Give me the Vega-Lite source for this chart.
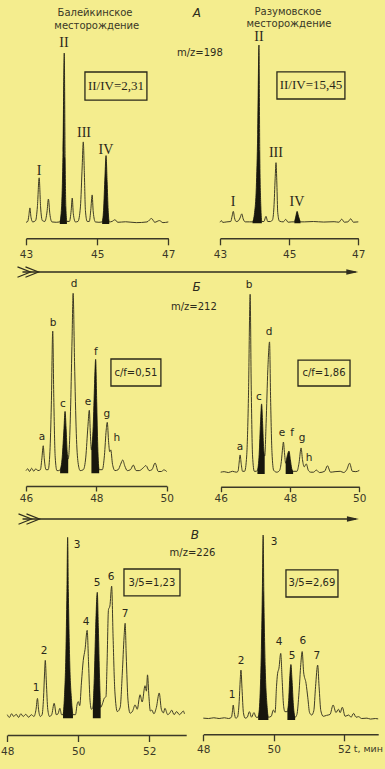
{
"$schema":"https://vega.github.io/schema/vega-lite/v6.json",
"width":385,"height":769,"padding":0,"autosize":{"type":"none"},
"background":"#f4ed8e",
"config":{"view":{"stroke":null},"axis":{"grid":false,"labelFlush":false,"domainColor":"#3b3927","tickColor":"#3b3927","labelColor":"#3b3927","labelFont":"DejaVu Sans","labelFontSize":10.5,"domainWidth":1.4,"tickWidth":1.3,"tickSize":6.5,"labelPadding":5},"text":{"font":"DejaVu Sans","color":"#2d2b1c"}},
"datasets":{
"tr1L":[{"t":43.00,"v":1},{"t":43.05,"v":1.5},{"t":43.08,"v":5},{"t":43.11,"v":9.4},{"t":43.14,"v":4},{"t":43.19,"v":1.2},{"t":43.27,"v":2},{"t":43.32,"v":10},{"t":43.37,"v":27},{"t":43.41,"v":10},{"t":43.46,"v":2},{"t":43.53,"v":1.5},{"t":43.59,"v":7},{"t":43.63,"v":14.6},{"t":43.67,"v":6},{"t":43.73,"v":1.2},{"t":43.85,"v":1},{"t":43.95,"v":1.2,"g":"II"},{"t":44.00,"v":10,"g":"II"},{"t":44.04,"v":42,"g":"II"},{"t":44.075,"v":100,"g":"II"},{"t":44.10,"v":38,"g":"II"},{"t":44.12,"v":10,"g":"II"},{"t":44.15,"v":1.5,"g":"II"},{"t":44.22,"v":1.5},{"t":44.27,"v":8},{"t":44.30,"v":15.2},{"t":44.33,"v":6},{"t":44.39,"v":1.2},{"t":44.46,"v":1.5},{"t":44.53,"v":10},{"t":44.58,"v":34},{"t":44.61,"v":48},{"t":44.64,"v":30},{"t":44.67,"v":8},{"t":44.72,"v":1.5},{"t":44.78,"v":1.5},{"t":44.82,"v":8},{"t":44.86,"v":17},{"t":44.89,"v":7},{"t":44.95,"v":1.2},{"t":45.05,"v":1},{"t":45.14,"v":1.2,"g":"IV"},{"t":45.18,"v":8,"g":"IV"},{"t":45.22,"v":28,"g":"IV"},{"t":45.25,"v":40,"g":"IV"},{"t":45.28,"v":25,"g":"IV"},{"t":45.31,"v":8,"g":"IV"},{"t":45.34,"v":1.2,"g":"IV"},{"t":45.42,"v":1.5},{"t":45.50,"v":2.5},{"t":45.58,"v":1},{"t":45.8,"v":1.3},{"t":46.1,"v":0.8},{"t":46.4,"v":1.2},{"t":46.53,"v":3.2},{"t":46.62,"v":1},{"t":46.75,"v":2},{"t":46.85,"v":0.8},{"t":47.0,"v":1.2}],
"tr1R":[{"t":43.00,"v":0.6},{"t":43.04,"v":1.5},{"t":43.08,"v":0.5},{"t":43.2,"v":0.8},{"t":43.31,"v":1},{"t":43.35,"v":4},{"t":43.385,"v":6.7},{"t":43.42,"v":3},{"t":43.47,"v":1},{"t":43.52,"v":1.2},{"t":43.58,"v":3},{"t":43.63,"v":5.3},{"t":43.67,"v":2.5},{"t":43.73,"v":0.8},{"t":43.85,"v":0.8},{"t":43.94,"v":0.8,"g":"II"},{"t":44.00,"v":6,"g":"II"},{"t":44.05,"v":20,"g":"II"},{"t":44.09,"v":50,"g":"II"},{"t":44.127,"v":100,"g":"II"},{"t":44.15,"v":40,"g":"II"},{"t":44.18,"v":10,"g":"II"},{"t":44.21,"v":1,"g":"II"},{"t":44.27,"v":1},{"t":44.33,"v":3.9},{"t":44.38,"v":1},{"t":44.46,"v":1},{"t":44.52,"v":2},{"t":44.56,"v":9},{"t":44.595,"v":25},{"t":44.62,"v":34},{"t":44.645,"v":22},{"t":44.67,"v":6},{"t":44.72,"v":1.2},{"t":44.83,"v":0.8},{"t":44.9,"v":2.2},{"t":44.97,"v":0.6},{"t":45.08,"v":0.8},{"t":45.15,"v":0.8,"g":"IV"},{"t":45.20,"v":4.5,"g":"IV"},{"t":45.23,"v":6.7,"g":"IV"},{"t":45.27,"v":4,"g":"IV"},{"t":45.33,"v":0.8,"g":"IV"},{"t":45.45,"v":0.8},{"t":45.7,"v":1},{"t":46.0,"v":0.7},{"t":46.3,"v":0.9},{"t":46.44,"v":0.6},{"t":46.52,"v":2.3},{"t":46.6,"v":0.6},{"t":46.7,"v":0.8},{"t":46.78,"v":2.5},{"t":46.86,"v":0.6},{"t":47.0,"v":0.8}],
"tr2L":[{"t":46.00,"v":1.5},{"t":46.05,"v":2.5},{"t":46.1,"v":1},{"t":46.16,"v":2.8},{"t":46.22,"v":1.2},{"t":46.28,"v":2.5},{"t":46.34,"v":1.5},{"t":46.41,"v":2},{"t":46.45,"v":8},{"t":46.49,"v":15.3},{"t":46.52,"v":8},{"t":46.57,"v":2},{"t":46.63,"v":2},{"t":46.68,"v":12},{"t":46.72,"v":38},{"t":46.76,"v":79},{"t":46.79,"v":42},{"t":46.83,"v":9},{"t":46.88,"v":1.5},{"t":46.93,"v":1.5},{"t":46.97,"v":2,"g":"c"},{"t":47.03,"v":9,"g":"c"},{"t":47.08,"v":25,"g":"c"},{"t":47.11,"v":34.4,"g":"c"},{"t":47.14,"v":25,"g":"c"},{"t":47.17,"v":12,"g":"c"},{"t":47.20,"v":8,"g":"c"},{"t":47.23,"v":14},{"t":47.27,"v":38},{"t":47.31,"v":75},{"t":47.34,"v":100},{"t":47.38,"v":62},{"t":47.43,"v":22},{"t":47.48,"v":6},{"t":47.54,"v":1.5},{"t":47.63,"v":2},{"t":47.70,"v":9},{"t":47.76,"v":26},{"t":47.80,"v":35},{"t":47.83,"v":22},{"t":47.86,"v":13,"g":"f"},{"t":47.91,"v":26,"g":"f"},{"t":47.95,"v":50,"g":"f"},{"t":47.98,"v":63.3,"g":"f"},{"t":48.01,"v":40,"g":"f"},{"t":48.04,"v":15,"g":"f"},{"t":48.08,"v":2,"g":"f"},{"t":48.17,"v":2},{"t":48.23,"v":10},{"t":48.28,"v":24},{"t":48.31,"v":28.3},{"t":48.35,"v":17},{"t":48.38,"v":12},{"t":48.41,"v":13},{"t":48.46,"v":5},{"t":48.53,"v":1.5},{"t":48.62,"v":2},{"t":48.69,"v":5},{"t":48.75,"v":7.4},{"t":48.81,"v":4},{"t":48.88,"v":1.5},{"t":48.97,"v":2},{"t":49.05,"v":4.6},{"t":49.13,"v":1.5},{"t":49.22,"v":1.5},{"t":49.33,"v":3},{"t":49.41,"v":4.3},{"t":49.5,"v":1.5},{"t":49.58,"v":2},{"t":49.67,"v":5.7},{"t":49.76,"v":1},{"t":49.85,"v":1},{"t":49.92,"v":1.9},{"t":50.0,"v":1}],
"tr2R":[{"t":46.00,"v":1},{"t":46.1,"v":1.3},{"t":46.22,"v":0.8},{"t":46.34,"v":1.5},{"t":46.45,"v":1},{"t":46.50,"v":1.5},{"t":46.53,"v":6},{"t":46.56,"v":10.6},{"t":46.59,"v":6},{"t":46.63,"v":1.5},{"t":46.69,"v":1.5},{"t":46.75,"v":10},{"t":46.80,"v":42},{"t":46.85,"v":100},{"t":46.88,"v":50},{"t":46.92,"v":10},{"t":46.97,"v":1.5},{"t":47.02,"v":1.5},{"t":47.06,"v":2,"g":"c"},{"t":47.11,"v":11,"g":"c"},{"t":47.15,"v":29,"g":"c"},{"t":47.18,"v":39,"g":"c"},{"t":47.21,"v":28,"g":"c"},{"t":47.24,"v":14,"g":"c"},{"t":47.27,"v":10,"g":"c"},{"t":47.31,"v":28},{"t":47.36,"v":58},{"t":47.41,"v":73.5},{"t":47.44,"v":42},{"t":47.48,"v":12},{"t":47.53,"v":2},{"t":47.62,"v":1},{"t":47.70,"v":2},{"t":47.75,"v":7},{"t":47.79,"v":15},{"t":47.81,"v":17.8},{"t":47.84,"v":12},{"t":47.875,"v":6,"g":"f"},{"t":47.92,"v":10,"g":"f"},{"t":47.97,"v":12.8,"g":"f"},{"t":48.01,"v":8,"g":"f"},{"t":48.05,"v":3,"g":"f"},{"t":48.09,"v":1.5,"g":"f"},{"t":48.2,"v":1.5},{"t":48.26,"v":6},{"t":48.32,"v":14.5},{"t":48.36,"v":8},{"t":48.41,"v":4},{"t":48.47,"v":5.6},{"t":48.53,"v":2},{"t":48.6,"v":1},{"t":48.68,"v":1},{"t":48.76,"v":2.2},{"t":48.85,"v":0.8},{"t":49.0,"v":1.5},{"t":49.08,"v":4.6},{"t":49.17,"v":1},{"t":49.3,"v":1.3},{"t":49.45,"v":1.5},{"t":49.55,"v":0.8},{"t":49.64,"v":2.5},{"t":49.72,"v":6},{"t":49.8,"v":1.5},{"t":49.9,"v":1.3},{"t":50.0,"v":2}],
"tr3L":[{"t":48.00,"v":2},{"t":48.06,"v":0.5},{"t":48.12,"v":2.5},{"t":48.18,"v":1},{"t":48.25,"v":2.2},{"t":48.32,"v":0.5},{"t":48.38,"v":2.5},{"t":48.45,"v":1},{"t":48.52,"v":2.2},{"t":48.6,"v":0.6},{"t":48.68,"v":2},{"t":48.75,"v":1},{"t":48.81,"v":5},{"t":48.85,"v":11},{"t":48.88,"v":5},{"t":48.93,"v":1},{"t":48.98,"v":2},{"t":49.02,"v":11},{"t":49.05,"v":25},{"t":49.07,"v":32},{"t":49.10,"v":20},{"t":49.14,"v":5},{"t":49.19,"v":1},{"t":49.25,"v":2},{"t":49.32,"v":8.3},{"t":49.38,"v":2},{"t":49.43,"v":2.5},{"t":49.48,"v":5.5},{"t":49.53,"v":2},{"t":49.57,"v":2,"g":"3"},{"t":49.61,"v":12,"g":"3"},{"t":49.65,"v":35,"g":"3"},{"t":49.68,"v":70,"g":"3"},{"t":49.70,"v":100,"g":"3"},{"t":49.72,"v":70,"g":"3"},{"t":49.76,"v":30,"g":"3"},{"t":49.81,"v":10,"g":"3"},{"t":49.85,"v":2,"g":"3"},{"t":49.92,"v":2},{"t":49.97,"v":8},{"t":50.0,"v":9.2},{"t":50.04,"v":7},{"t":50.09,"v":20},{"t":50.14,"v":32},{"t":50.19,"v":38},{"t":50.25,"v":48.6},{"t":50.29,"v":30},{"t":50.33,"v":10},{"t":50.37,"v":5},{"t":50.41,"v":6,"g":"5"},{"t":50.45,"v":22,"g":"5"},{"t":50.49,"v":50,"g":"5"},{"t":50.535,"v":69.6,"g":"5"},{"t":50.565,"v":50,"g":"5"},{"t":50.60,"v":22,"g":"5"},{"t":50.63,"v":6,"g":"5"},{"t":50.68,"v":8},{"t":50.73,"v":11},{"t":50.78,"v":12},{"t":50.81,"v":30},{"t":50.85,"v":60},{"t":50.89,"v":62},{"t":50.94,"v":73},{"t":50.98,"v":45},{"t":51.03,"v":15},{"t":51.10,"v":3.7},{"t":51.18,"v":6},{"t":51.24,"v":25},{"t":51.29,"v":45},{"t":51.32,"v":52.5},{"t":51.35,"v":35},{"t":51.40,"v":10},{"t":51.46,"v":2.8},{"t":51.53,"v":4},{"t":51.60,"v":7.4},{"t":51.66,"v":5},{"t":51.74,"v":13},{"t":51.80,"v":9},{"t":51.88,"v":18},{"t":51.92,"v":15},{"t":51.95,"v":24},{"t":51.99,"v":12},{"t":52.03,"v":4},{"t":52.07,"v":4.6},{"t":52.13,"v":2.5},{"t":52.2,"v":6},{"t":52.28,"v":14},{"t":52.34,"v":5},{"t":52.40,"v":3},{"t":52.44,"v":5.5},{"t":52.52,"v":2},{"t":52.58,"v":3},{"t":52.63,"v":4.5},{"t":52.7,"v":2},{"t":52.77,"v":3.7},{"t":52.85,"v":2},{"t":52.96,"v":4},{"t":52.99,"v":2.5}],
"tr3R":[{"t":48.00,"v":1},{"t":48.15,"v":0.8},{"t":48.3,"v":1.2},{"t":48.45,"v":0.8},{"t":48.6,"v":1.2},{"t":48.72,"v":0.8},{"t":48.80,"v":1.5},{"t":48.83,"v":5},{"t":48.85,"v":8.1},{"t":48.88,"v":4},{"t":48.92,"v":1},{"t":48.97,"v":1.5},{"t":49.02,"v":10},{"t":49.05,"v":22},{"t":49.07,"v":27},{"t":49.10,"v":17},{"t":49.14,"v":4},{"t":49.19,"v":1},{"t":49.25,"v":1.5},{"t":49.31,"v":4.5},{"t":49.37,"v":1.5},{"t":49.44,"v":4},{"t":49.50,"v":1.5},{"t":49.56,"v":1.5,"g":"3"},{"t":49.61,"v":12,"g":"3"},{"t":49.65,"v":38,"g":"3"},{"t":49.68,"v":72,"g":"3"},{"t":49.70,"v":100,"g":"3"},{"t":49.72,"v":68,"g":"3"},{"t":49.76,"v":28,"g":"3"},{"t":49.81,"v":8,"g":"3"},{"t":49.85,"v":1.5,"g":"3"},{"t":49.93,"v":2},{"t":49.99,"v":5.4},{"t":50.04,"v":4},{"t":50.08,"v":18},{"t":50.11,"v":25},{"t":50.15,"v":28},{"t":50.20,"v":36},{"t":50.24,"v":22},{"t":50.28,"v":8},{"t":50.32,"v":4.5},{"t":50.39,"v":4.5,"g":"5"},{"t":50.43,"v":12,"g":"5"},{"t":50.46,"v":24,"g":"5"},{"t":50.49,"v":30,"g":"5"},{"t":50.52,"v":22,"g":"5"},{"t":50.56,"v":8,"g":"5"},{"t":50.61,"v":1.5,"g":"5"},{"t":50.66,"v":3},{"t":50.72,"v":15},{"t":50.77,"v":30},{"t":50.81,"v":37},{"t":50.85,"v":26},{"t":50.92,"v":19.8},{"t":50.97,"v":12},{"t":51.02,"v":4},{"t":51.08,"v":2.7},{"t":51.14,"v":5},{"t":51.19,"v":18},{"t":51.25,"v":29.7},{"t":51.29,"v":18},{"t":51.34,"v":5},{"t":51.41,"v":2},{"t":51.5,"v":2.5},{"t":51.6,"v":3},{"t":51.69,"v":8.1},{"t":51.77,"v":4},{"t":51.84,"v":5.8},{"t":51.89,"v":4},{"t":51.95,"v":6.9},{"t":52.03,"v":2},{"t":52.13,"v":2.7},{"t":52.2,"v":1.5},{"t":52.27,"v":3.6},{"t":52.34,"v":1.5},{"t":52.41,"v":1.8},{"t":52.5,"v":0.8},{"t":52.65,"v":1},{"t":52.75,"v":0.5},{"t":52.89,"v":0.8},{"t":52.97,"v":0.6}],
"lab1L":[{"t":44.067,"v":105.8,"label":"II"},{"t":43.365,"v":31,"label":"I"},{"t":44.63,"v":53.2,"label":"III"},{"t":45.247,"v":43.3,"label":"IV"}],
"lab1R":[{"t":44.127,"v":104.5,"label":"II"},{"t":43.376,"v":11.9,"label":"I"},{"t":44.618,"v":39.4,"label":"III"},{"t":45.225,"v":11.9,"label":"IV"}],
"lab2L":[{"t":46.455,"v":20.2,"label":"a"},{"t":46.767,"v":83.5,"label":"b"},{"t":47.051,"v":38.5,"label":"c"},{"t":47.364,"v":105.2,"label":"d"},{"t":47.761,"v":39.6,"label":"e"},{"t":47.989,"v":67.4,"label":"f"},{"t":48.301,"v":32.9,"label":"g"},{"t":48.585,"v":19.6,"label":"h"}],
"lab2R":[{"t":46.557,"v":15,"label":"a"},{"t":46.817,"v":105.2,"label":"b"},{"t":47.105,"v":42.8,"label":"c"},{"t":47.394,"v":79,"label":"d"},{"t":47.769,"v":22.8,"label":"e"},{"t":48.058,"v":22.8,"label":"f"},{"t":48.346,"v":20,"label":"g"},{"t":48.548,"v":8.9,"label":"h"}],
"lab3L":[{"t":48.808,"v":16.7,"label":"1"},{"t":49.034,"v":37.2,"label":"2"},{"t":49.963,"v":95.7,"label":"3"},{"t":50.217,"v":53.2,"label":"4"},{"t":50.527,"v":74.8,"label":"5"},{"t":50.921,"v":78.1,"label":"6"},{"t":51.315,"v":57.6,"label":"7"}],
"lab3R":[{"t":48.815,"v":13.5,"label":"1"},{"t":49.071,"v":31.9,"label":"2"},{"t":50.009,"v":96.2,"label":"3"},{"t":50.151,"v":42.2,"label":"4"},{"t":50.52,"v":34.6,"label":"5"},{"t":50.832,"v":42.7,"label":"6"},{"t":51.23,"v":34.6,"label":"7"}]
},
"layer":[
{"layer":[
 {"data":{"name":"tr1L"},"mark":{"type":"line","interpolate":"monotone","color":"#3e3b25","strokeWidth":1},
  "encoding":{"x":{"field":"t","type":"quantitative","scale":{"domain":[43,47],"range":[26,168.3],"nice":false,"zero":false},"axis":{"orient":"bottom","offset":-530.7,"values":[43,45,47],"format":"d","title":null}},"y":{"field":"v","type":"quantitative","scale":{"domain":[0,100],"range":[224,53],"nice":false,"zero":false},"axis":null}}},
 {"data":{"name":"tr1L"},"transform":[{"filter":"isValid(datum.g)"}],"mark":{"type":"area","interpolate":"monotone","color":"#17160d"},
  "encoding":{"x":{"field":"t","type":"quantitative"},"y":{"field":"v","type":"quantitative","axis":null},"y2":{"datum":0},"detail":{"field":"g"}}},
 {"data":{"name":"lab1L"},"mark":{"type":"text","font":"Liberation Serif","fontSize":14,"color":"#2a281a"},
  "encoding":{"x":{"field":"t","type":"quantitative"},"y":{"field":"v","type":"quantitative","axis":null},"text":{"field":"label"}}},
 {"data":{"values":[{"t1":44.657,"t2":46.399,"v1":88.9,"v2":72.5}]},"mark":{"type":"rect","filled":false,"color":"#2a281a","strokeWidth":1.3},
  "encoding":{"x":{"field":"t1","type":"quantitative"},"x2":{"field":"t2"},"y":{"field":"v1","type":"quantitative","axis":null},"y2":{"field":"v2"}}},
 {"data":{"values":[{"t":45.528,"v":80.7,"label":"II/IV=2,31"}]},"mark":{"type":"text","font":"Liberation Serif","fontSize":13,"color":"#2a281a"},
  "encoding":{"x":{"field":"t","type":"quantitative"},"y":{"field":"v","type":"quantitative","axis":null},"text":{"field":"label"}}},
 {"data":{"values":[{"t":44.94,"v":123.4,"label":"Балейкинское"},{"t":44.99,"v":115.8,"label":"месторождение"}]},"mark":{"type":"text","fontSize":10,"color":"#3a3826"},
  "encoding":{"x":{"field":"t","type":"quantitative"},"y":{"field":"v","type":"quantitative","axis":null},"text":{"field":"label"}}},
 {"data":{"values":[{"t":47.8,"v":123.4,"label":"А"}]},"mark":{"type":"text","fontSize":12,"fontStyle":"italic"},
  "encoding":{"x":{"field":"t","type":"quantitative"},"y":{"field":"v","type":"quantitative","axis":null},"text":{"field":"label"}}},
 {"data":{"values":[{"t":47.888,"v":100,"label":"m/z=198"}]},"mark":{"type":"text","fontSize":10},
  "encoding":{"x":{"field":"t","type":"quantitative"},"y":{"field":"v","type":"quantitative","axis":null},"text":{"field":"label"}}}
]},
{"layer":[
 {"data":{"name":"tr1R"},"mark":{"type":"line","interpolate":"monotone","color":"#3e3b25","strokeWidth":1},
  "encoding":{"x":{"field":"t","type":"quantitative","scale":{"domain":[43,47],"range":[220,358.3],"nice":false,"zero":false},"axis":{"orient":"bottom","offset":-530.7,"values":[43,45,47],"format":"d","title":null}},"y":{"field":"v","type":"quantitative","scale":{"domain":[0,100],"range":[223.3,45],"nice":false,"zero":false},"axis":null}}},
 {"data":{"name":"tr1R"},"transform":[{"filter":"isValid(datum.g)"}],"mark":{"type":"area","interpolate":"monotone","color":"#17160d"},
  "encoding":{"x":{"field":"t","type":"quantitative"},"y":{"field":"v","type":"quantitative","axis":null},"y2":{"datum":0},"detail":{"field":"g"}}},
 {"data":{"name":"lab1R"},"mark":{"type":"text","font":"Liberation Serif","fontSize":14,"color":"#2a281a"},
  "encoding":{"x":{"field":"t","type":"quantitative"},"y":{"field":"v","type":"quantitative","axis":null},"text":{"field":"label"}}},
 {"data":{"values":[{"t1":44.647,"t2":46.613,"v1":84.9,"v2":69.7}]},"mark":{"type":"rect","filled":false,"color":"#2a281a","strokeWidth":1.3},
  "encoding":{"x":{"field":"t1","type":"quantitative"},"x2":{"field":"t2"},"y":{"field":"v1","type":"quantitative","axis":null},"y2":{"field":"v2"}}},
 {"data":{"values":[{"t":45.63,"v":77.3,"label":"II/IV=15,45"}]},"mark":{"type":"text","font":"Liberation Serif","fontSize":13,"color":"#2a281a"},
  "encoding":{"x":{"field":"t","type":"quantitative"},"y":{"field":"v","type":"quantitative","axis":null},"text":{"field":"label"}}},
 {"data":{"values":[{"t":44.965,"v":118.5,"label":"Разумовское"},{"t":44.994,"v":111.8,"label":"месторождение"}]},"mark":{"type":"text","fontSize":10,"color":"#3a3826"},
  "encoding":{"x":{"field":"t","type":"quantitative"},"y":{"field":"v","type":"quantitative","axis":null},"text":{"field":"label"}}}
]},
{"layer":[
 {"data":{"name":"tr2L"},"mark":{"type":"line","interpolate":"monotone","color":"#3e3b25","strokeWidth":1},
  "encoding":{"x":{"field":"t","type":"quantitative","scale":{"domain":[46,50],"range":[26,166.7],"nice":false,"zero":false},"axis":{"orient":"bottom","offset":-283,"values":[46,48,50],"format":"d","tickSize":5,"labelPadding":2,"title":null}},"y":{"field":"v","type":"quantitative","scale":{"domain":[0,100],"range":[473.3,293.3],"nice":false,"zero":false},"axis":null}}},
 {"data":{"name":"tr2L"},"transform":[{"filter":"isValid(datum.g)"}],"mark":{"type":"area","interpolate":"monotone","color":"#17160d"},
  "encoding":{"x":{"field":"t","type":"quantitative"},"y":{"field":"v","type":"quantitative","axis":null},"y2":{"datum":0},"detail":{"field":"g"}}},
 {"data":{"name":"lab2L"},"mark":{"type":"text","fontSize":10.5,"color":"#2a281a"},
  "encoding":{"x":{"field":"t","type":"quantitative"},"y":{"field":"v","type":"quantitative","axis":null},"text":{"field":"label"}}},
 {"data":{"values":[{"t1":48.415,"t2":49.835,"v1":63.5,"v2":48.5}]},"mark":{"type":"rect","filled":false,"color":"#2a281a","strokeWidth":1.3},
  "encoding":{"x":{"field":"t1","type":"quantitative"},"x2":{"field":"t2"},"y":{"field":"v1","type":"quantitative","axis":null},"y2":{"field":"v2"}}},
 {"data":{"values":[{"t":49.125,"v":55.9,"label":"c/f=0,51"}]},"mark":{"type":"text","fontSize":10,"color":"#2a281a"},
  "encoding":{"x":{"field":"t","type":"quantitative"},"y":{"field":"v","type":"quantitative","axis":null},"text":{"field":"label"}}},
 {"data":{"values":[{"t":50.849,"v":103.7,"label":"Б"}]},"mark":{"type":"text","fontSize":12,"fontStyle":"italic"},
  "encoding":{"x":{"field":"t","type":"quantitative"},"y":{"field":"v","type":"quantitative","axis":null},"text":{"field":"label"}}},
 {"data":{"values":[{"t":50.773,"v":92.6,"label":"m/z=212"}]},"mark":{"type":"text","fontSize":10},
  "encoding":{"x":{"field":"t","type":"quantitative"},"y":{"field":"v","type":"quantitative","axis":null},"text":{"field":"label"}}},
 {"data":{"values":[{"t1":45.9,"t2":55.375,"v":111.8}]},"mark":{"type":"rule","color":"#2f2d1e","strokeWidth":1.4},
  "encoding":{"x":{"field":"t1","type":"quantitative"},"x2":{"field":"t2"},"y":{"field":"v","type":"quantitative","axis":null}}},
 {"data":{"values":[{"t":45.943,"v":111.8},{"t":46.17,"v":111.8}]},"mark":{"type":"point","shape":"M-1,-0.8L1,0L-1,0.8","filled":false,"size":169,"color":"#2f2d1e","strokeWidth":1.2,"opacity":1},
  "encoding":{"x":{"field":"t","type":"quantitative"},"y":{"field":"v","type":"quantitative","axis":null}}},
 {"data":{"values":[{"t":55.276,"v":111.8}]},"mark":{"type":"point","shape":"M-1,-0.45L1,0L-1,0.45Z","filled":true,"size":144,"color":"#2f2d1e","opacity":1},
  "encoding":{"x":{"field":"t","type":"quantitative"},"y":{"field":"v","type":"quantitative","axis":null}}}
]},
{"layer":[
 {"data":{"name":"tr2R"},"mark":{"type":"line","interpolate":"monotone","color":"#3e3b25","strokeWidth":1},
  "encoding":{"x":{"field":"t","type":"quantitative","scale":{"domain":[46,50],"range":[220.7,359.3],"nice":false,"zero":false},"axis":{"orient":"bottom","offset":-282.3,"values":[46,48,50],"format":"d","tickSize":5,"labelPadding":2,"title":null}},"y":{"field":"v","type":"quantitative","scale":{"domain":[0,100],"range":[474,294.3],"nice":false,"zero":false},"axis":null}}},
 {"data":{"name":"tr2R"},"transform":[{"filter":"isValid(datum.g)"}],"mark":{"type":"area","interpolate":"monotone","color":"#17160d"},
  "encoding":{"x":{"field":"t","type":"quantitative"},"y":{"field":"v","type":"quantitative","axis":null},"y2":{"datum":0},"detail":{"field":"g"}}},
 {"data":{"name":"lab2R"},"mark":{"type":"text","fontSize":10.5,"color":"#2a281a"},
  "encoding":{"x":{"field":"t","type":"quantitative"},"y":{"field":"v","type":"quantitative","axis":null},"text":{"field":"label"}}},
 {"data":{"values":[{"t1":48.231,"t2":49.732,"v1":63.4,"v2":48.97}]},"mark":{"type":"rect","filled":false,"color":"#2a281a","strokeWidth":1.3},
  "encoding":{"x":{"field":"t1","type":"quantitative"},"x2":{"field":"t2"},"y":{"field":"v1","type":"quantitative","axis":null},"y2":{"field":"v2"}}},
 {"data":{"values":[{"t":48.981,"v":56.2,"label":"c/f=1,86"}]},"mark":{"type":"text","fontSize":10,"color":"#2a281a"},
  "encoding":{"x":{"field":"t","type":"quantitative"},"y":{"field":"v","type":"quantitative","axis":null},"text":{"field":"label"}}}
]},
{"layer":[
 {"data":{"name":"tr3L"},"mark":{"type":"line","interpolate":"monotone","color":"#3e3b25","strokeWidth":1},
  "encoding":{"x":{"field":"t","type":"quantitative","scale":{"domain":[48,53.04],"range":[7.3,186.2],"nice":false,"zero":false},"axis":{"orient":"bottom","offset":-34,"values":[48,50,52],"format":"d","title":null}},"y":{"field":"v","type":"quantitative","scale":{"domain":[0,100],"range":[718.3,537.3],"nice":false,"zero":false},"axis":null}}},
 {"data":{"name":"tr3L"},"transform":[{"filter":"isValid(datum.g)"}],"mark":{"type":"area","interpolate":"monotone","color":"#17160d"},
  "encoding":{"x":{"field":"t","type":"quantitative"},"y":{"field":"v","type":"quantitative","axis":null},"y2":{"datum":0},"detail":{"field":"g"}}},
 {"data":{"name":"lab3L"},"mark":{"type":"text","fontSize":10.5,"color":"#2a281a"},
  "encoding":{"x":{"field":"t","type":"quantitative"},"y":{"field":"v","type":"quantitative","axis":null},"text":{"field":"label"}}},
 {"data":{"values":[{"t1":51.287,"t2":52.865,"v1":82.5,"v2":67.6}]},"mark":{"type":"rect","filled":false,"color":"#2a281a","strokeWidth":1.3},
  "encoding":{"x":{"field":"t1","type":"quantitative"},"x2":{"field":"t2"},"y":{"field":"v1","type":"quantitative","axis":null},"y2":{"field":"v2"}}},
 {"data":{"values":[{"t":52.076,"v":74.9,"label":"3/5=1,23"}]},"mark":{"type":"text","fontSize":10,"color":"#2a281a"},
  "encoding":{"x":{"field":"t","type":"quantitative"},"y":{"field":"v","type":"quantitative","axis":null},"text":{"field":"label"}}},
 {"data":{"values":[{"t":53.287,"v":101.3,"label":"В"}]},"mark":{"type":"text","fontSize":12,"fontStyle":"italic"},
  "encoding":{"x":{"field":"t","type":"quantitative"},"y":{"field":"v","type":"quantitative","axis":null},"text":{"field":"label"}}},
 {"data":{"values":[{"t":53.217,"v":91.2,"label":"m/z=226"}]},"mark":{"type":"text","fontSize":10},
  "encoding":{"x":{"field":"t","type":"quantitative"},"y":{"field":"v","type":"quantitative","axis":null},"text":{"field":"label"}}},
 {"data":{"values":[{"t1":48.43,"t2":57.823,"v":110.1}]},"mark":{"type":"rule","color":"#2f2d1e","strokeWidth":1.4},
  "encoding":{"x":{"field":"t1","type":"quantitative"},"x2":{"field":"t2"},"y":{"field":"v","type":"quantitative","axis":null}}},
 {"data":{"values":[{"t":48.499,"v":110.1},{"t":48.724,"v":110.1}]},"mark":{"type":"point","shape":"M-1,-0.8L1,0L-1,0.8","filled":false,"size":169,"color":"#2f2d1e","strokeWidth":1.2,"opacity":1},
  "encoding":{"x":{"field":"t","type":"quantitative"},"y":{"field":"v","type":"quantitative","axis":null}}},
 {"data":{"values":[{"t":57.738,"v":110.1}]},"mark":{"type":"point","shape":"M-1,-0.45L1,0L-1,0.45Z","filled":true,"size":144,"color":"#2f2d1e","opacity":1},
  "encoding":{"x":{"field":"t","type":"quantitative"},"y":{"field":"v","type":"quantitative","axis":null}}}
]},
{"layer":[
 {"data":{"name":"tr3R"},"mark":{"type":"line","interpolate":"monotone","color":"#3e3b25","strokeWidth":1},
  "encoding":{"x":{"field":"t","type":"quantitative","scale":{"domain":[48,52.97],"range":[203.3,378.2],"nice":false,"zero":false},"axis":{"orient":"bottom","offset":-34.7,"values":[48,50,52],"format":"d","labelPadding":4,"title":null}},"y":{"field":"v","type":"quantitative","scale":{"domain":[0,100],"range":[720,535],"nice":false,"zero":false},"axis":null}}},
 {"data":{"name":"tr3R"},"transform":[{"filter":"isValid(datum.g)"}],"mark":{"type":"area","interpolate":"monotone","color":"#17160d"},
  "encoding":{"x":{"field":"t","type":"quantitative"},"y":{"field":"v","type":"quantitative","axis":null},"y2":{"datum":0},"detail":{"field":"g"}}},
 {"data":{"name":"lab3R"},"mark":{"type":"text","fontSize":10.5,"color":"#2a281a"},
  "encoding":{"x":{"field":"t","type":"quantitative"},"y":{"field":"v","type":"quantitative","axis":null},"text":{"field":"label"}}},
 {"data":{"values":[{"t1":50.349,"t2":51.827,"v1":81.1,"v2":66.5}]},"mark":{"type":"rect","filled":false,"color":"#2a281a","strokeWidth":1.3},
  "encoding":{"x":{"field":"t1","type":"quantitative"},"x2":{"field":"t2"},"y":{"field":"v1","type":"quantitative","axis":null},"y2":{"field":"v2"}}},
 {"data":{"values":[{"t":51.088,"v":73.8,"label":"3/5=2,69"}]},"mark":{"type":"text","fontSize":10,"color":"#2a281a"},
  "encoding":{"x":{"field":"t","type":"quantitative"},"y":{"field":"v","type":"quantitative","axis":null},"text":{"field":"label"}}},
 {"data":{"values":[{"t":52.69,"v":-15.7,"label":"t, мин"}]},"mark":{"type":"text","fontSize":9.5,"color":"#3b3927"},
  "encoding":{"x":{"field":"t","type":"quantitative"},"y":{"field":"v","type":"quantitative","axis":null},"text":{"field":"label"}}}
]}
],
"resolve":{"scale":{"x":"independent","y":"independent"},"axis":{"x":"independent","y":"independent"}}
}
